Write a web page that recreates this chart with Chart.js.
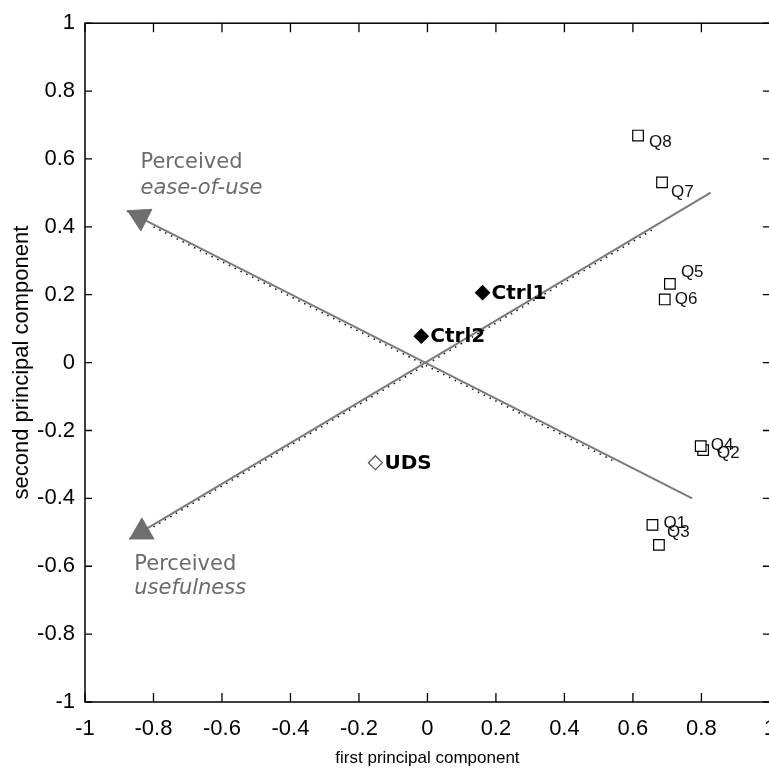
<!DOCTYPE html>
<html>
<head>
<meta charset="utf-8">
<script src="https://cdn.jsdelivr.net/npm/chart.js@4.4.1/dist/chart.umd.min.js"></script>
<style>
  html, body { margin: 0; padding: 0; background: #fff; overflow: hidden; }
</style>
</head>
<body>
<canvas id="pcaChart" width="790" height="772"></canvas>
<script>
// questionnaire items (open squares)
var questionLabels = ['Q1', 'Q2', 'Q3', 'Q4', 'Q5', 'Q6', 'Q7', 'Q8'];
var questionX = [0.657, 0.805, 0.676, 0.798, 0.708, 0.693, 0.685, 0.615];
var questionY = [-0.478, -0.258, -0.537, -0.246, 0.232, 0.186, 0.531, 0.669];

// conditions (diamonds)
var groupLabels = ['Ctrl1', 'Ctrl2', 'UDS'];
var groupX = [0.161, -0.018, -0.152];
var groupY = [0.206, 0.078, -0.295];

// the two perceived-factor axes (end, tip)
var easeX = [0.773, -0.878];
var easeY = [-0.400, 0.447];
var usefulX = [0.827, -0.871];
var usefulY = [0.501, -0.520];
// arrowhead centres: ease, usefulness
var arrowX = [-0.839, -0.834];
var arrowY = [0.429, -0.499];
// faint dotted traces lying under the axes
var easeDotX = [-0.80, 0.55];
var easeDotY = [0.400, -0.293];
var usefulDotX = [-0.80, 0.66];
var usefulDotY = [-0.484, 0.393];

var tickValues = [-1, -0.8, -0.6, -0.4, -0.2, 0, 0.2, 0.4, 0.6, 0.8, 1];

// factor names written next to the arrowheads
var factorText = ['Perceived', 'ease-of-use', 'Perceived', 'usefulness'];
var factorTextX = [-0.838, -0.838, -0.856, -0.856];
var factorTextY = [0.572, 0.496, -0.611, -0.683];
var factorItalic = [false, true, false, true];

function pts(xs, ys) {
  return xs.map(function (x, i) { return { x: x, y: ys[i] }; });
}

// label offsets in pixels from the marker centre
var qLabelOffset = {
  Q1: [11, -2], Q2: [14, 3], Q3: [8, -13], Q4: [10, -1],
  Q5: [11, -12], Q6: [10, 0], Q7: [9, 10], Q8: [11, 7]
};

var arial = "'Liberation Sans', Arial, sans-serif";
var verdanaLike = "'DejaVu Sans', Verdana, sans-serif";

var frameAndText = {
  id: 'frameAndText',
  afterDraw: function (chart) {
    var c = chart.ctx, a = chart.chartArea;
    var xs = chart.scales.x, ys = chart.scales.y;
    c.save();
    c.strokeStyle = '#000';
    c.lineWidth = 1.5;
    c.strokeRect(a.left, a.top, a.right - a.left, a.bottom - a.top);
    c.lineWidth = 1.3;
    c.beginPath();
    tickValues.forEach(function (v) {
      var px = xs.getPixelForValue(v), py = ys.getPixelForValue(v);
      c.moveTo(px, a.bottom); c.lineTo(px, a.bottom - 9);
      c.moveTo(px, a.top); c.lineTo(px, a.top + 9);
      c.moveTo(a.left, py); c.lineTo(a.left + 7, py);
      c.moveTo(a.right, py); c.lineTo(a.right - 7, py);
    });
    c.stroke();

    c.textAlign = 'left';
    c.textBaseline = 'middle';
    c.fillStyle = '#111';
    c.font = '17px ' + arial;
    questionLabels.forEach(function (lab, i) {
      var off = qLabelOffset[lab];
      c.fillText(lab, xs.getPixelForValue(questionX[i]) + off[0], ys.getPixelForValue(questionY[i]) + off[1]);
    });

    c.fillStyle = '#000';
    c.font = 'bold 20px ' + verdanaLike;
    groupLabels.forEach(function (lab, i) {
      c.fillText(lab, xs.getPixelForValue(groupX[i]) + 9, ys.getPixelForValue(groupY[i]) + 1);
    });

    c.textBaseline = 'alphabetic';
    c.fillStyle = '#6b6b6b';
    factorText.forEach(function (t, i) {
      c.font = (factorItalic[i] ? 'italic ' : '') + '21px ' + verdanaLike;
      c.fillText(t, xs.getPixelForValue(factorTextX[i]), ys.getPixelForValue(factorTextY[i]));
    });
    c.restore();
  }
};

function axisOpts(title, fit, tickPad, titleSize, titlePad) {
  return {
    type: 'linear',
    min: -1,
    max: 1,
    afterBuildTicks: function (s) {
      s.ticks = tickValues.map(function (v) { return { value: v }; });
    },
    afterFit: fit,
    grid: { display: false, drawTicks: false },
    border: { display: false },
    ticks: {
      autoSkip: false,
      maxRotation: 0,
      padding: tickPad,
      color: '#000',
      font: { family: arial, size: 22 },
      callback: function (v) { return String(v); }
    },
    title: {
      display: true,
      text: title,
      color: '#000',
      font: { family: arial, size: titleSize },
      padding: titlePad
    }
  };
}

var ctx = document.getElementById('pcaChart').getContext('2d');
var chart = new Chart(ctx, {
  type: 'scatter',
  data: {
    datasets: [{
      label: 'items',
      data: pts(questionX, questionY),
      pointStyle: 'rect',
      pointRadius: 7.5,
      backgroundColor: '#fff',
      borderColor: '#000',
      borderWidth: 1.2,
      order: 1
    }, {
      label: 'conditions',
      data: pts(groupX, groupY),
      pointStyle: 'rectRot',
      pointRadius: 7,
      backgroundColor: ['#000', '#000', '#fff'],
      borderColor: ['#000', '#000', '#555'],
      borderWidth: 1.2,
      order: 1
    }, {
      label: 'arrowheads',
      data: pts(arrowX, arrowY),
      pointStyle: 'triangle',
      pointRadius: 14,
      pointRotation: [-63, -120],
      backgroundColor: '#6e6e6e',
      borderColor: '#6e6e6e',
      borderWidth: 1,
      order: 2
    }, {
      label: 'ease-of-use',
      data: pts(easeX, easeY),
      showLine: true,
      pointRadius: 0,
      borderColor: '#7a7a7a',
      borderWidth: 2,
      order: 3
    }, {
      label: 'usefulness',
      data: pts(usefulX, usefulY),
      showLine: true,
      pointRadius: 0,
      borderColor: '#7a7a7a',
      borderWidth: 2,
      order: 3
    }, {
      label: 'ease trace',
      data: pts(easeDotX, easeDotY),
      showLine: true,
      pointRadius: 0,
      borderColor: '#111',
      borderWidth: 1.5,
      borderDash: [1.5, 5],
      order: 4
    }, {
      label: 'usefulness trace',
      data: pts(usefulDotX, usefulDotY),
      showLine: true,
      pointRadius: 0,
      borderColor: '#111',
      borderWidth: 1.5,
      borderDash: [1.5, 5],
      order: 4
    }]
  },
  options: {
    responsive: false,
    animation: false,
    layout: { padding: { top: 20, right: 19, left: 0, bottom: 0 } },
    plugins: {
      legend: { display: false },
      tooltip: { enabled: false }
    },
    scales: {
      x: axisOpts('first principal component', function (s) { s.height = 70; }, 14, 17, { top: 4, bottom: 3 }),
      y: axisOpts('second principal component', function (s) { s.width = 85; }, 10, 22, { top: 9, bottom: 4 })
    }
  },
  plugins: [frameAndText]
});
</script>
</body>
</html>
